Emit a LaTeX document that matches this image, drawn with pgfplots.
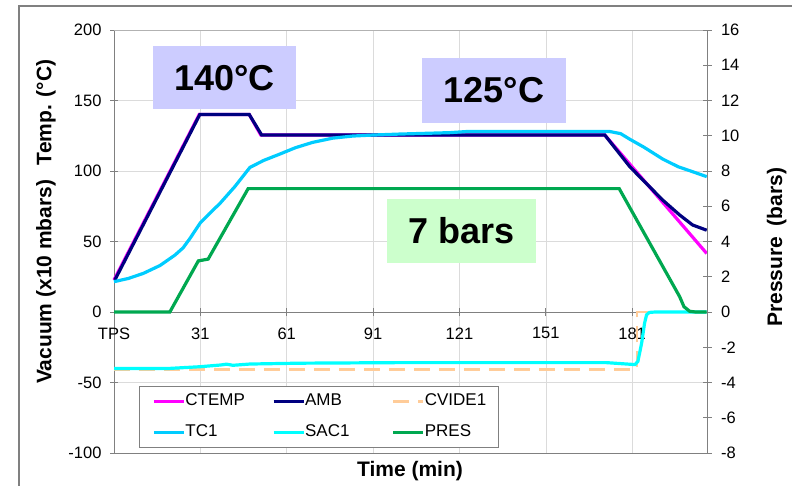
\documentclass[border=0pt]{standalone}
\usepackage{fontspec}
\setmainfont{Liberation Sans}
\usepackage{pgfplots}
\pgfplotsset{compat=1.18}

\definecolor{ctemp}{RGB}{255,0,255}
\definecolor{amb}{RGB}{0,0,128}
\definecolor{cvide}{RGB}{255,204,153}
\definecolor{tcone}{RGB}{0,204,255}
\definecolor{sacone}{RGB}{0,255,255}
\definecolor{pres}{RGB}{0,168,80}
\definecolor{boxblue}{RGB}{204,204,255}
\definecolor{boxgreen}{RGB}{204,255,204}
\definecolor{axgray}{RGB}{128,128,128}

\begin{document}
\begin{tikzpicture}[x=1pt,y=1pt]
\useasboundingbox (0,0) rectangle (792,485);
\draw[axgray, line width=1.2pt] (19,-2) -- (19,479) -- (794,479);

\begin{axis}[
  at={(114pt,32pt)}, anchor=south west, scale only axis,
  width=593pt, height=423pt,
  xmin=1, xmax=207, ymin=-100, ymax=200,
  axis y line*=left, axis x line*=middle,
  hide obscured x ticks=false,
  xtick={1,31,61,91,121,151,181},
  xticklabels={TPS,31,61,91,121,151,181},
  ytick={-100,-50,0,50,100,150,200},
  grid=major, major grid style={gray!28, line width=0.6pt},
  tick align=center, major tick length=8pt,
  tick style={axgray, line width=0.8pt},
  axis line style={axgray, line width=1pt, -},
  tick label style={font=\fontsize{16.5}{18}\selectfont},
  /pgf/number format/assume math mode=true,
  xticklabel style={yshift=-8pt},
  yticklabel style={xshift=-5pt},
  clip=false,
]
\draw[gray!60, line width=0.8pt] (rel axis cs:0,1) -- (rel axis cs:1,1);
\draw[axgray, line width=1pt] (rel axis cs:0,0) -- (rel axis cs:1,0);
\addplot[ctemp, line width=3.2pt] coordinates {
 (1,22.7) (30.6,140) (48,140) (52,125.5) (171.5,125.5) (206.9,41.5)};
\addplot[amb, line width=3.2pt] coordinates {
 (1.3,22.7) (30.8,140) (48,140) (52.3,125.5) (171.5,125.5) (180.2,103) (191.6,79.4) (197.5,68.8) (202,61.7) (206.9,58)};
\addplot[cvide, line width=2.8pt, dash pattern=on 16pt off 9pt] coordinates {
 (1,-40.7) (182.7,-40.7) (182.7,0) (206.9,0)};
\addplot[tcone, line width=3.2pt] coordinates {
 (1,21.5) (6,23.8) (11.2,27.4) (17,33) (22.2,40.4) (25,45.5) (27.4,52.2) (30.9,63) (34,69.5) (37.8,77) (43,89) (48.2,102.5) (53,107.5) (58.6,112) (64,116.5) (70,120.3) (77,123.3) (84,124.8) (90.9,125.5) (100.3,126.2) (117.7,127.2) (123.6,128) (173.2,128) (177,126.5) (180.2,122.5) (185,117) (191.6,108.5) (197,103) (202,99.5) (206.9,96)};
\addplot[sacone, line width=3.2pt] coordinates {
 (1,-40) (20.4,-40) (30.9,-38.8) (38,-37.6) (40.1,-37.0) (42.3,-37.8) (48.2,-36.9) (65.6,-36.3) (100.3,-35.9) (172,-35.9) (182,-37.3) (183,-35) (184.3,-22) (185.3,-8) (186,-2) (187,-0.3) (189,0) (206.9,0)};
\end{axis}

\begin{axis}[
  at={(114pt,32pt)}, anchor=south west, scale only axis,
  width=593pt, height=423pt,
  xmin=1, xmax=207, ymin=-8, ymax=16,
  axis y line*=right, axis x line=none,
  ytick={-8,-6,...,16},
  tick align=center, major tick length=9pt,
  tick style={axgray, line width=0.8pt},
  axis line style={axgray, line width=1pt, -},
  tick label style={font=\fontsize{16.5}{18}\selectfont},
  /pgf/number format/assume math mode=true,
  yticklabel style={xshift=6pt},
  legend columns=3,
  legend image code/.code={\draw[#1] (0pt,0pt) -- (30pt,0pt);},
  legend style={at={(0.0427,0.0111)}, anchor=south west,
    draw=axgray, line width=1pt, fill=white,
    font=\fontsize{17}{19}\selectfont,
    inner xsep=12.4pt, inner ysep=8pt, row sep=17pt,
    nodes={inner sep=0pt, text height=11pt, text depth=3pt},
    /tikz/every even column/.style={column sep=0pt}},
]
\addlegendimage{ctemp, line width=3.2pt}
\addlegendimage{amb, line width=3.2pt}
\addlegendimage{cvide, line width=2.8pt, dash pattern=on 16pt off 9pt}
\addlegendimage{tcone, line width=3.2pt}
\addlegendimage{sacone, line width=3.2pt}
\addplot[pres, line width=3.2pt] coordinates {
 (1,0) (20.4,0) (30.3,2.9) (33.7,3.0) (47.6,7) (176.5,7) (197.5,0.87) (199,0.3) (201,0.04) (203,0) (206.9,0)};
\legend{\makebox[86.5pt][l]{CTEMP},\makebox[86.5pt][l]{AMB},\makebox[61.5pt][l]{CVIDE1},
        \makebox[86.5pt][l]{TC1},\makebox[86.5pt][l]{SAC1},\makebox[61.5pt][l]{PRES}}
\end{axis}

\fill[boxblue] (153,375.7) rectangle (296,439);
\node[font=\fontsize{36}{40}\selectfont\bfseries] at (224.5,407) {140°C};
\fill[boxblue] (422,362.3) rectangle (565.7,426.7);
\node[font=\fontsize{36}{40}\selectfont\bfseries] at (494,394.5) {125°C};
\fill[boxgreen] (386.7,222.3) rectangle (536,286);
\node[font=\fontsize{36}{40}\selectfont\bfseries] at (461.3,254) {7 bars};

\node[rotate=90, font=\fontsize{21}{24}\selectfont\bfseries] at (46,263.3) {Vacuum (x10 mbars)\hspace{0.7em}Temp. (°C)};
\node[rotate=90, font=\fontsize{21}{24}\selectfont\bfseries] at (776.7,237.7) {Pressure\hspace{0.5em}(bars)};
\node[font=\fontsize{21}{24}\selectfont\bfseries, anchor=base] at (410,8.3) {Time (min)};
\end{tikzpicture}
\end{document}
